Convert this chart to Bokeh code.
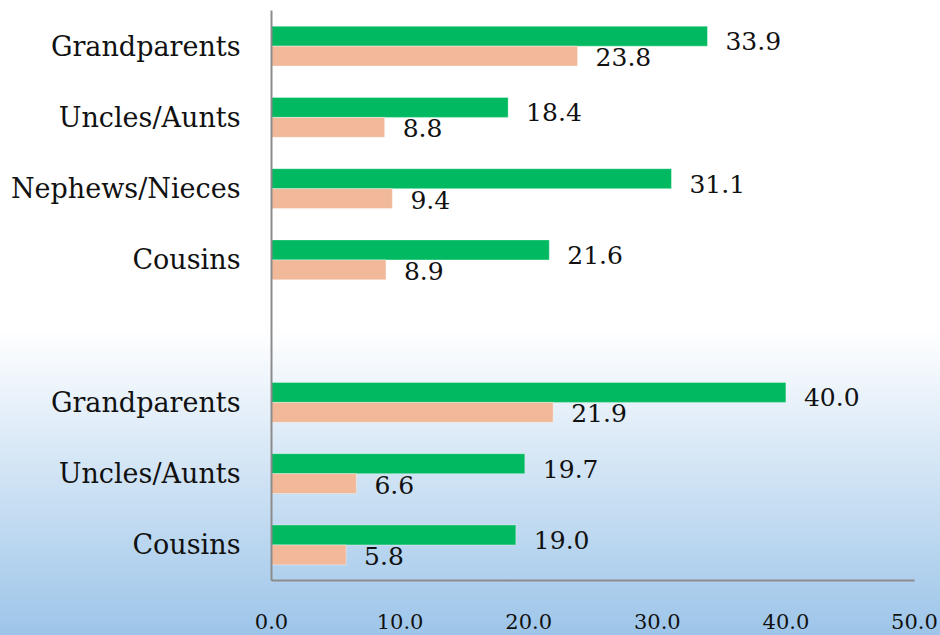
from bokeh.plotting import figure
from bokeh.models import ColumnDataSource, Range1d, FixedTicker
from bokeh.core.properties import value
from bokeh.embed import file_html
from bokeh.resources import INLINE

# Relatives, listed top to bottom, in two groups separated by a blank row
labels = ["Grandparents", "Uncles/Aunts", "Nephews/Nieces", "Cousins",
          "Grandparents", "Uncles/Aunts", "Cousins"]
group_sizes = [4, 3]
green_vals = [33.9, 18.4, 31.1, 21.6, 40.0, 19.7, 19.0]
salmon_vals = [23.8, 8.8, 9.4, 8.9, 21.9, 6.6, 5.8]
x_ticks = [0, 10, 20, 30, 40, 50]

GREEN = "#00b960"
SALMON = "#f1b999"
FONT = "DejaVu Serif"

# slot index for each row, leaving one empty slot between groups
slots = []
pos = 0
for g in group_sizes:
    slots.extend(range(pos, pos + g))
    pos += g + 1
n_slots = pos - 1

bar_h = 0.28
src = ColumnDataSource(dict(
    green_y=[s - bar_h / 2 for s in slots],
    salmon_y=[s + bar_h / 2 for s in slots],
    green_base=[s for s in slots],
    salmon_base=[s + bar_h for s in slots],
    green=green_vals,
    salmon=salmon_vals,
    green_txt=[f"{v:.1f}" for v in green_vals],
    salmon_txt=[f"{v:.1f}" for v in salmon_vals],
))

p = figure(width=940, height=635, output_backend="svg", toolbar_location=None,
           x_range=Range1d(0, 50), y_range=Range1d(n_slots - 0.5, -0.5),
           min_border_left=271, min_border_right=26, min_border_top=10,
           min_border_bottom=55)

p.border_fill_color = None
p.background_fill_color = None
p.outline_line_color = None
p.styles = {"background": "linear-gradient(to bottom, #ffffff 0px, #ffffff 330px, #9dc5e9 635px)"}
p.grid.visible = False

p.hbar(y="green_y", left=0, right="green", height=bar_h, source=src,
       fill_color=GREEN, line_color="white", line_alpha=0.35, line_width=1)
p.hbar(y="salmon_y", left=0, right="salmon", height=bar_h, source=src,
       fill_color=SALMON, line_color="white", line_alpha=0.35, line_width=1)

p.text(x="green", y="green_base", text="green_txt", source=src,
       x_offset=18, y_offset=-5, text_baseline="alphabetic", text_align="left",
       text_font=value(FONT), text_font_size="25px", text_color="#111111")
p.text(x="salmon", y="salmon_base", text="salmon_txt", source=src,
       x_offset=18, y_offset=-9, text_baseline="alphabetic", text_align="left",
       text_font=value(FONT), text_font_size="25px", text_color="#111111")

# y axis: category names
ya = p.yaxis[0]
ya.ticker = FixedTicker(ticks=slots)
ya.major_label_overrides = {s: lab for s, lab in zip(slots, labels)}
ya.major_label_text_font = FONT
ya.major_label_text_font_size = "27px"
ya.major_label_text_color = "#111111"
ya.major_label_standoff = 25
ya.major_tick_line_color = None
ya.minor_tick_line_color = None
ya.axis_line_color = "#8c8c8c"
ya.axis_line_width = 2

# x axis: percentages
xa = p.xaxis[0]
xa.ticker = FixedTicker(ticks=x_ticks)
xa.major_label_overrides = {t: f"{t:.1f}" for t in x_ticks}
xa.major_label_text_font = FONT
xa.major_label_text_font_size = "21px"
xa.major_label_text_color = "#111111"
xa.major_label_standoff = 27
xa.major_tick_line_color = None
xa.minor_tick_line_color = None
xa.axis_line_color = "#8c8c8c"
xa.axis_line_width = 2

open("out.html", "w").write(file_html(p, INLINE))
